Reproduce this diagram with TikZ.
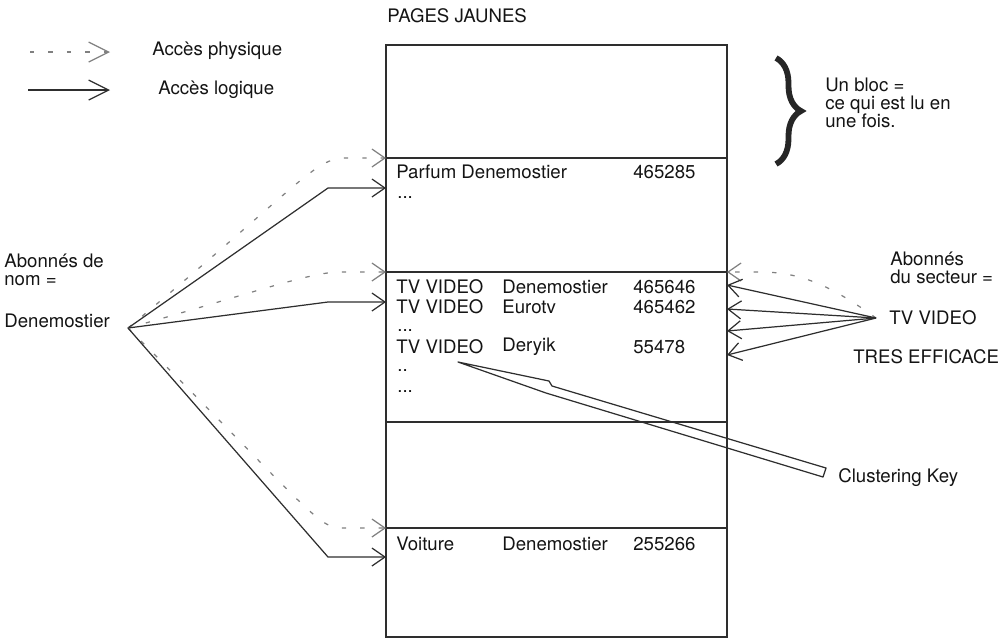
\documentclass[tikz,border=0pt]{standalone}
\usepackage{fontspec}
\setmainfont{TeX Gyre Heros}
\usepackage{xcolor}
\usepackage{tikz}
\usetikzlibrary{arrows.meta, positioning, calc, decorations.pathreplacing}

\begin{document}
\begin{tikzpicture}[x=0.02cm, y=-0.02cm,
        every node/.style={inner sep=0pt, anchor=west, text=black!92, font=\fontsize{10.6}{10.4}\selectfont},
        logi/.style={draw=black!82, line width=0.7pt, -{Straight Barb[length=2.6mm, width=3.6mm]}},
        phys/.style={logi, draw=black!50, dash pattern=on 2.5pt off 8pt},
        legtip/.style={-{Straight Barb[length=4mm, width=4mm]}}]
        \useasboundingbox (0,0) rectangle (1003,640);

        % Legend
        \coordinate (lp1) at (30,52);
        \coordinate (lp2) at (110,52);
        \coordinate (ll1) at (28,90);
        \coordinate (ll2) at (110,90);
        \draw[phys, legtip] (lp1) -- (lp2);
        \draw[logi, legtip] (ll1) -- (ll2);
        \node (lphys) at (152,51) {Accès physique};
        \node (llog) at (158,90) {Accès logique};

        % Pages jaunes file
        \node (titre) at (387,16) {PAGES JAUNES};
        \draw[black!82, line width=0.7pt] (386,45) rectangle (727,637);
        \draw[black!82, line width=0.7pt] (386,158) -- (727,158);
        \draw[black!82, line width=0.7pt] (386,272) -- (727,272);
        \draw[black!82, line width=0.7pt] (386,422) -- (727,422);
        \draw[black!82, line width=0.7pt] (386,528) -- (727,528);

        % Block brace
        \draw[decorate, decoration={brace, amplitude=5mm}, line width=3.3pt, black!85] (776,58) -- (776,164);
        \node[align=left] (bloc) at (825,103) {Un bloc =\\ce qui est lu en\\une fois.};

        % Records
        \node (parf) at (396,172) {Parfum Denemostier};
        \node (parfnum) at (633,172) {465285};
        \node (pdots) at (397,198) {...};
        \node (tv1) at (396,287) {TV VIDEO};
        \node (tv1nom) at (502,287) {Denemostier};
        \node (tv1num) at (633,287) {465646};
        \node (tv2) at (396,307) {TV VIDEO};
        \node (tv2nom) at (502,307) {Eurotv};
        \node (tv2num) at (633,307) {465462};
        \node (tdots) at (397,331) {...};
        \node (tv3) at (396,347) {TV VIDEO};
        \node (tv3nom) at (502,347) {Deryik};
        \node (tv3num) at (633,347) {55478};
        \node (tdots2) at (397,371) {..};
        \node (tdots3) at (397,392) {...};
        \node (voit) at (396,544) {Voiture};
        \node (voitnom) at (502,544) {Denemostier};
        \node (voitnum) at (633,544) {255266};

        % Access by name
        \node[align=left] (abnom) at (4,270) {Abonnés de\\nom =};
        \node (nomden) at (4,321) {Denemostier};
        \coordinate (srcL) at (128,328);
        \coordinate (a1) at (386,158);
        \coordinate (a2) at (386,188);
        \coordinate (a3) at (386,272);
        \coordinate (a4) at (386,302);
        \coordinate (a5) at (386,528);
        \coordinate (a6) at (386,557);
        \draw[phys] (srcL) .. controls (300,185) and (315,158) .. (345,158) -- (a1);
        \draw[logi] (srcL) -- (328,188) -- (a2);
        \draw[phys] (srcL) .. controls (250,294) and (310,272) .. (340,272) -- (a3);
        \draw[logi] (srcL) -- (328,302) -- (a4);
        \draw[phys] (srcL) .. controls (300,500) and (318,528) .. (340,528) -- (a5);
        \draw[logi] (srcL) -- (328,557) -- (a6);

        % Access by sector
        \node[align=left] (absect) at (890,268) {Abonnés\\du secteur =};
        \node (tvsect) at (889,318) {TV VIDEO};
        \node (tres) at (853,357) {TRES EFFICACE};
        \coordinate (srcR) at (876,318);
        \coordinate (b1) at (727,272);
        \coordinate (b2) at (727,285);
        \coordinate (b3) at (727,309);
        \coordinate (b4) at (727,331);
        \coordinate (b5) at (727,355);
        \draw[phys] (srcR) .. controls (830,285) and (800,272) .. (760,272) -- (b1);
        \draw[logi] (srcR) -- (b2);
        \draw[logi] (srcR) -- (b3);
        \draw[logi] (srcR) -- (b4);
        \draw[logi] (srcR) -- (b5);

        % Clustering key
        \node (ckey) at (838,478) {Clustering Key};
        \draw[black!82, line width=0.7pt, line join=round] (458,362) -- (549,381) -- (552,386) -- (826,468) -- (823,477) -- (546,393) -- cycle;
\end{tikzpicture}
\end{document}
